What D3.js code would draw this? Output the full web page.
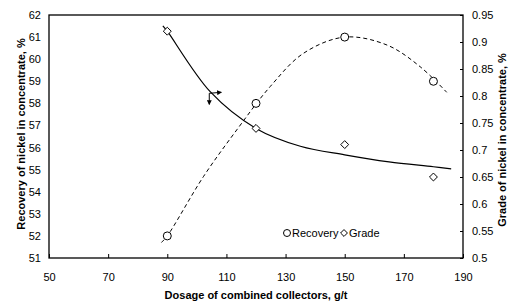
<!DOCTYPE html>
<html>
<head>
    <meta charset="UTF-8">
    <style>
        *{
            margin: 0;
            padding: 0;
        }
        body{
            background-color: #fff;
            font-family: "Liberation Sans", Arial, sans-serif;
        }
        .tick text{
            font-size: 11px;
            fill: #000;
        }
        .title{
            font-size: 11px;
            font-weight: bold;
            fill: #000;
        }
    </style>
    <script src="https://d3js.org/d3.v7.min.js"></script>
    <title>Recovery and grade</title>
</head>
<body>
<svg id="chart" width="509" height="303"></svg>
<script>
    // dosage of combined collectors, g/t
    var dosage = [90, 120, 150, 180];
    var recovery = [52, 58, 61, 59];
    var grade = [0.92, 0.74, 0.71, 0.65];

    // trend lines
    var recTrendX = [88, 90, 102.2, 113.5, 124.8, 136.1, 150, 164.3, 175.5, 184.5];
    var recTrendY = [51.7, 52.0, 54.68, 56.8, 58.76, 60.27, 61.0, 60.64, 59.66, 58.5];
    var gradeTrendX = [88.5, 90, 104.5, 120, 135, 150, 165, 180, 186];
    var gradeTrendY = [0.93, 0.92, 0.808, 0.74, 0.707, 0.691, 0.678, 0.669, 0.665];

    var xTicks = [50, 70, 90, 110, 130, 150, 170, 190];
    var leftTicks = [51, 52, 53, 54, 55, 56, 57, 58, 59, 60, 61, 62];
    var rightTicks = [0.5, 0.55, 0.6, 0.65, 0.7, 0.75, 0.8, 0.85, 0.9, 0.95];

    var svg = d3.select("#chart");
    var pLeft = 49, pRight = 463, pTop = 15, pBottom = 258;

    var x = d3.scaleLinear().domain([50, 190]).range([pLeft, pRight]);
    var yL = d3.scaleLinear().domain([51, 62]).range([pBottom, pTop]);
    var yR = d3.scaleLinear().domain([0.5, 0.95]).range([pBottom, pTop]);

    // frame
    svg.append("rect")
        .attr("x", pLeft).attr("y", pTop)
        .attr("width", pRight - pLeft).attr("height", pBottom - pTop)
        .attr("fill", "none").attr("stroke", "#000").attr("stroke-width", 1.3);

    // bottom axis, ticks pointing inside
    var gx = svg.append("g")
        .attr("transform", "translate(0," + pBottom + ")")
        .call(d3.axisBottom(x).tickValues(xTicks).tickSize(-4).tickPadding(15).tickSizeOuter(0));
    gx.select(".domain").remove();

    var gl = svg.append("g")
        .attr("transform", "translate(" + pLeft + ",0)")
        .call(d3.axisLeft(yL).tickValues(leftTicks).tickSize(0).tickPadding(8));
    gl.select(".domain").remove();

    var gr = svg.append("g")
        .attr("transform", "translate(" + pRight + ",0)")
        .call(d3.axisRight(yR).tickValues(rightTicks).tickSize(-3).tickPadding(9)
            .tickFormat(function(d) { return String(+d.toFixed(2)); }));
    gr.select(".domain").remove();

    svg.selectAll(".tick line").attr("stroke", "#000");
    svg.selectAll(".tick text").attr("font-family", "Liberation Sans, Arial, sans-serif");

    // titles
    svg.append("text")
        .attr("class", "title")
        .attr("transform", "translate(21,134) rotate(-90)")
        .attr("text-anchor", "middle")
        .attr("dy", "0.35em")
        .text("Recovery of nickel in concentrate, %");

    svg.append("text")
        .attr("class", "title")
        .attr("transform", "translate(502,140) rotate(-90)")
        .attr("text-anchor", "middle")
        .attr("dy", "0.35em")
        .text("Grade of nickel in concentrate, %");

    svg.append("text")
        .attr("class", "title")
        .attr("x", (pLeft + pRight) / 2)
        .attr("y", 299)
        .attr("text-anchor", "middle")
        .text("Dosage of combined collectors, g/t");

    // trend lines
    svg.append("path")
        .datum(d3.zip(recTrendX, recTrendY))
        .attr("fill", "none").attr("stroke", "#000").attr("stroke-width", 1)
        .attr("stroke-dasharray", "4,3")
        .attr("d", d3.line()
            .curve(d3.curveCatmullRom)
            .x(function(d) { return x(d[0]); })
            .y(function(d) { return yL(d[1]); }));

    svg.append("path")
        .datum(d3.zip(gradeTrendX, gradeTrendY))
        .attr("fill", "none").attr("stroke", "#000").attr("stroke-width", 1.2)
        .attr("d", d3.line()
            .curve(d3.curveCatmullRom)
            .x(function(d) { return x(d[0]); })
            .y(function(d) { return yR(d[1]); }));

    // markers
    svg.selectAll(".rec")
        .data(d3.zip(dosage, recovery))
        .enter()
        .append("circle")
        .attr("class", "rec")
        .attr("cx", function(d) { return x(d[0]); })
        .attr("cy", function(d) { return yL(d[1]); })
        .attr("r", 4)
        .attr("fill", "#fff").attr("stroke", "#000").attr("stroke-width", 1);

    var diamond = d3.symbol().type(d3.symbolDiamond2).size(40);
    svg.selectAll(".gr")
        .data(d3.zip(dosage, grade))
        .enter()
        .append("path")
        .attr("class", "gr")
        .attr("transform", function(d) { return "translate(" + x(d[0]) + "," + yR(d[1]) + ")"; })
        .attr("d", diamond)
        .attr("fill", "#fff").attr("stroke", "#000").attr("stroke-width", 1);

    // arrow annotation on the solid curve
    var defs = svg.append("defs");
    defs.append("marker")
        .attr("id", "ah")
        .attr("viewBox", "0 0 6 6").attr("refX", 5).attr("refY", 3)
        .attr("markerWidth", 5).attr("markerHeight", 5)
        .attr("orient", "auto")
        .append("path").attr("d", "M0,0L6,3L0,6Z").attr("fill", "#000");

    var ax = x(104.2), ay = yR(0.805);
    svg.append("line")
        .attr("x1", ax).attr("y1", ay).attr("x2", ax + 12).attr("y2", ay - 1)
        .attr("stroke", "#000").attr("stroke-width", 1).attr("marker-end", "url(#ah)");
    svg.append("line")
        .attr("x1", ax).attr("y1", ay).attr("x2", ax).attr("y2", ay + 11)
        .attr("stroke", "#000").attr("stroke-width", 1).attr("marker-end", "url(#ah)");

    // legend
    var lg = svg.append("g").attr("transform", "translate(287,233)");
    lg.append("circle").attr("cx", 0).attr("cy", 0).attr("r", 3.5)
        .attr("fill", "#fff").attr("stroke", "#000");
    lg.append("text").attr("x", 5).attr("y", 4).attr("font-size", "11px").text("Recovery");
    lg.append("path").attr("transform", "translate(57,0)")
        .attr("d", d3.symbol().type(d3.symbolDiamond2).size(30))
        .attr("fill", "#fff").attr("stroke", "#000");
    lg.append("text").attr("x", 62).attr("y", 4).attr("font-size", "11px").text("Grade");
</script>
</body>
</html>
